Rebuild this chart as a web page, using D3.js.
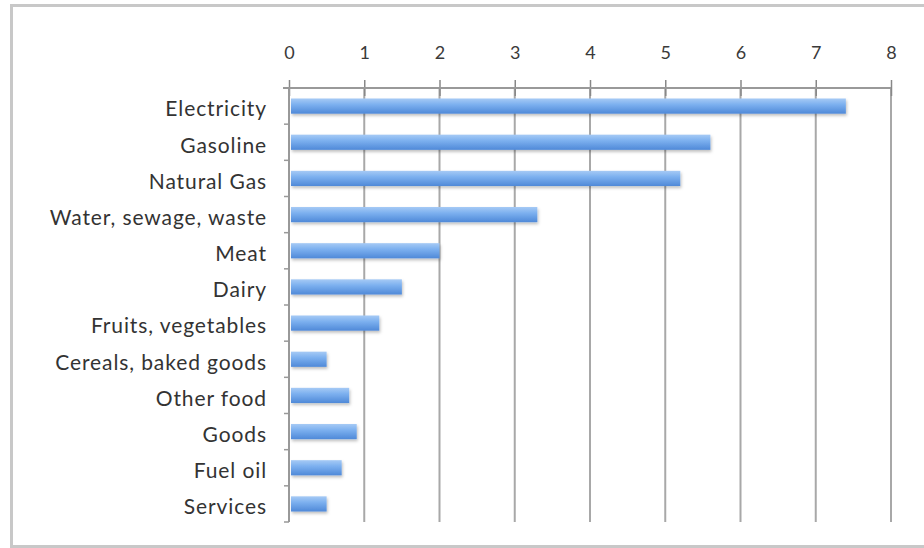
<!DOCTYPE html>
<html><head><meta charset="utf-8">
<script src="https://cdn.jsdelivr.net/npm/d3@7"></script>
<style>body{margin:0;background:#fff;} svg{display:block;}</style>
</head><body>
<svg id="c" width="924" height="548"></svg>
<script>
const categories = ["Electricity","Gasoline","Natural Gas","Water, sewage, waste","Meat","Dairy","Fruits, vegetables","Cereals, baked goods","Other food","Goods","Fuel oil","Services"];
const values = [7.4,5.6,5.2,3.3,2.0,1.5,1.2,0.5,0.8,0.9,0.7,0.5];
const xTicks = [0,1,2,3,4,5,6,7,8];

const svg = d3.select("#c");
const pL = 289, pR = 891, pT = 88, pB = 522;
const fontFam = "Lato, 'Open Sans', sans-serif";

const defs = svg.append("defs");
const g = defs.append("linearGradient").attr("id","bg").attr("x1",0).attr("y1",0).attr("x2",0).attr("y2",1);
g.append("stop").attr("offset","0%").attr("stop-color","#a6caf5");
g.append("stop").attr("offset","40%").attr("stop-color","#7cb0ef");
g.append("stop").attr("offset","100%").attr("stop-color","#4f89d8");
const f = defs.append("filter").attr("id","sh").attr("x","-5%").attr("y","-30%").attr("width","115%").attr("height","180%");
f.append("feDropShadow").attr("dx",1).attr("dy",2).attr("stdDeviation",1.5).attr("flood-color","#000").attr("flood-opacity",0.25);

// frame
svg.append("rect").attr("x",11.5).attr("y",5.5).attr("width",930).attr("height",541)
  .attr("fill","#fff").attr("stroke","#c8c8c8").attr("stroke-width",3);

const x = d3.scaleLinear().domain([0,8]).range([pL,pR]);
const y = d3.scaleBand().domain(categories).range([pT,pB]).paddingInner(0.58).paddingOuter(0.29);

// grid
svg.append("g").selectAll("line").data(xTicks.slice(1)).join("line")
  .attr("x1",d=>x(d)).attr("x2",d=>x(d)).attr("y1",pT).attr("y2",pB)
  .attr("stroke","#a8a8a8").attr("stroke-width",2);

// top axis
const xa = svg.append("g").attr("transform",`translate(0,${pT})`)
  .call(d3.axisTop(x).tickValues(xTicks).tickSize(8).tickPadding(21));
xa.select(".domain").remove();
xa.selectAll(".tick line").attr("y2",8).attr("y1",-8).attr("stroke","#888").attr("stroke-width",1.5);
xa.selectAll("text").attr("font-family",fontFam).attr("font-size",18).attr("fill","#3a3a3a");
svg.append("line").attr("x1",pL-6).attr("x2",pR).attr("y1",pT).attr("y2",pT).attr("stroke","#999").attr("stroke-width",2);

// left axis line and ticks
svg.append("line").attr("x1",pL).attr("x2",pL).attr("y1",pT).attr("y2",pB).attr("stroke","#999").attr("stroke-width",2);
const step = (pB-pT)/categories.length;
svg.append("g").selectAll("line").data(d3.range(categories.length+1)).join("line")
  .attr("x1",pL-5).attr("x2",pL).attr("y1",i=>pT+i*step).attr("y2",i=>pT+i*step)
  .attr("stroke","#999").attr("stroke-width",1.5);

// labels
svg.append("g").selectAll("text").data(categories).join("text")
  .attr("x",267).attr("y",d=>y(d)+y.bandwidth()/2+3).attr("dy","0.35em")
  .attr("text-anchor","end").attr("font-family",fontFam).attr("font-size",21)
  .attr("letter-spacing","0.9px").attr("fill","#333")
  .text(d=>d);

// bars
svg.append("g").selectAll("rect").data(categories).join("rect")
  .attr("x",x(0)+2).attr("y",d=>y(d)).attr("height",y.bandwidth())
  .attr("width",(d,i)=>x(values[i])-x(0)-2)
  .attr("fill","url(#bg)").attr("filter","url(#sh)");
</script>
</body></html>
